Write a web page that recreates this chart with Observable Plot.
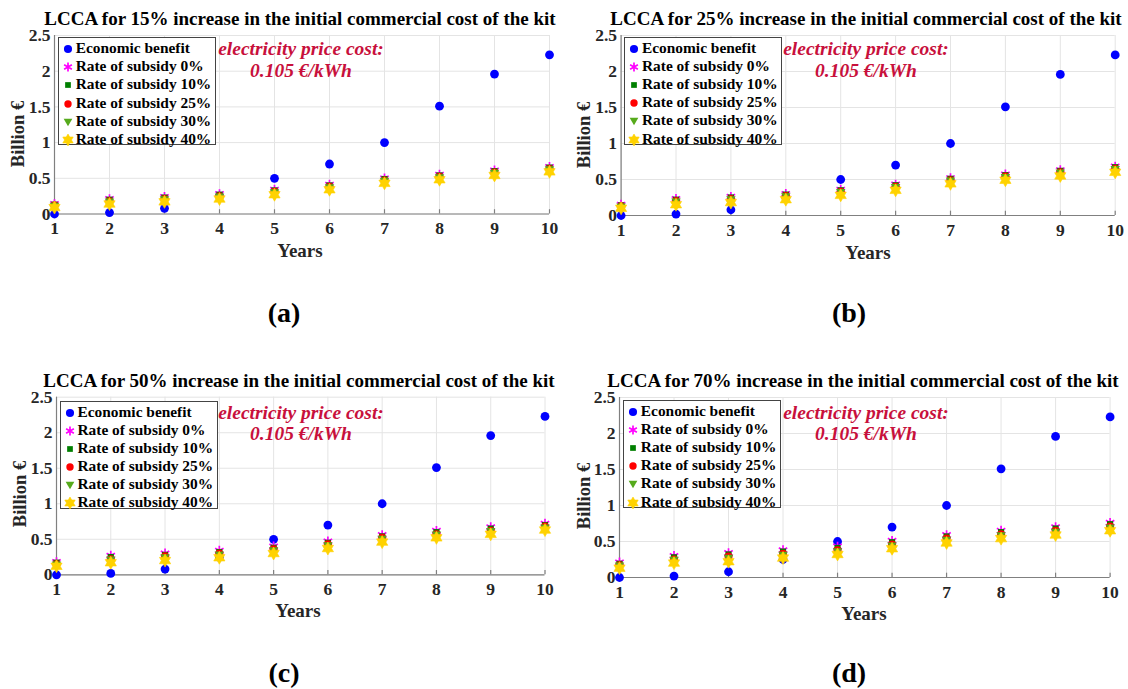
<!DOCTYPE html>
<html>
<head>
<meta charset="utf-8">
<script src="https://cdn.jsdelivr.net/npm/d3@7"></script>
<script src="https://cdn.jsdelivr.net/npm/@observablehq/plot@0.6"></script>
<style>
  body { margin: 0; background: #fff; }
  #root { position: relative; width: 1128px; height: 689px; overflow: hidden; background: #fff;
          font-family: "Liberation Serif", "Times New Roman", serif; font-weight: bold; }
  .abs { position: absolute; white-space: nowrap; line-height: 1; }
  .title { font-size: 19px; line-height: 0.8; color: #000; transform: translate(-50%, -50%); }
  .ylab { font-size: 18.5px; color: #262626; transform: translate(-50%, -50%) rotate(-90deg); }
  .xlab { font-size: 19px; color: #262626; transform: translate(-50%, -50%); }
  .tag { font-size: 28px; color: #000; transform: translate(-50%, -50%); }
  .note { font-size: 19.5px; font-style: italic; color: #c8103c; transform: translate(-50%, -50%); }
  .legend { position: absolute; width: 158px; height: 108px; border: 1px solid #444; background: #fff; box-sizing: border-box; }
  .legrow { position: absolute; left: 0; font-size: 15.4px; color: #000; white-space: nowrap; line-height: 1; }
  .legrow svg { position: absolute; left: 2px; top: -6px; }
  .legrow span { position: absolute; left: 17px; top: -8px; }
  svg.plot { position: absolute; overflow: visible; }
</style>
</head>
<body>
<div id="root"></div>
<script>
// ---------------- data ----------------
const years = [1, 2, 3, 4, 5, 6, 7, 8, 9, 10];
const yTicks = [0, 0.5, 1, 1.5, 2, 2.5];
const seriesNames = ["Economic benefit", "Rate of subsidy 0%", "Rate of subsidy 10%",
                     "Rate of subsidy 25%", "Rate of subsidy 30%", "Rate of subsidy 40%"];
const economicBenefit = [0.00, 0.02, 0.08, 0.25, 0.50, 0.70, 1.00, 1.51, 1.96, 2.23];

// subsidy series (0%, 10%, 25%, 30%, 40%) per cost-increase scenario
const increase15 = [
  [0.14, 0.21, 0.24, 0.28, 0.34, 0.41, 0.50, 0.55, 0.61, 0.66],
  [0.13, 0.20, 0.23, 0.27, 0.33, 0.40, 0.49, 0.54, 0.60, 0.65],
  [0.12, 0.18, 0.21, 0.25, 0.31, 0.38, 0.47, 0.52, 0.58, 0.63],
  [0.11, 0.17, 0.20, 0.24, 0.30, 0.37, 0.46, 0.51, 0.57, 0.62],
  [0.09, 0.14, 0.17, 0.21, 0.27, 0.34, 0.43, 0.48, 0.54, 0.59]
];
const increase25 = [
  [0.15, 0.23, 0.26, 0.30, 0.36, 0.43, 0.52, 0.57, 0.63, 0.68],
  [0.14, 0.22, 0.25, 0.29, 0.35, 0.42, 0.51, 0.56, 0.62, 0.67],
  [0.13, 0.20, 0.23, 0.27, 0.33, 0.40, 0.49, 0.54, 0.60, 0.65],
  [0.12, 0.19, 0.22, 0.26, 0.32, 0.39, 0.48, 0.53, 0.59, 0.64],
  [0.10, 0.15, 0.18, 0.22, 0.28, 0.35, 0.44, 0.49, 0.55, 0.60]
];
const increase50 = [
  [0.18, 0.27, 0.30, 0.34, 0.40, 0.47, 0.56, 0.62, 0.67, 0.72],
  [0.17, 0.25, 0.28, 0.32, 0.38, 0.45, 0.54, 0.60, 0.65, 0.70],
  [0.15, 0.22, 0.26, 0.30, 0.36, 0.43, 0.52, 0.57, 0.62, 0.68],
  [0.14, 0.21, 0.24, 0.28, 0.34, 0.41, 0.50, 0.56, 0.61, 0.66],
  [0.12, 0.17, 0.20, 0.24, 0.30, 0.37, 0.46, 0.52, 0.57, 0.63]
];
const increase70 = [
  [0.21, 0.30, 0.34, 0.38, 0.43, 0.51, 0.59, 0.65, 0.70, 0.76],
  [0.19, 0.28, 0.32, 0.36, 0.41, 0.49, 0.57, 0.63, 0.68, 0.74],
  [0.17, 0.25, 0.29, 0.33, 0.38, 0.46, 0.54, 0.60, 0.65, 0.71],
  [0.16, 0.24, 0.27, 0.31, 0.36, 0.44, 0.52, 0.58, 0.63, 0.69],
  [0.13, 0.20, 0.22, 0.27, 0.32, 0.40, 0.48, 0.54, 0.59, 0.65]
];
const scenarios = [increase15, increase25, increase50, increase70];
const panelTitles = [
  "LCCA for 15% increase in the initial commercial cost of the kit",
  "LCCA for 25% increase in the initial commercial cost of the kit",
  "LCCA for 50% increase in the initial commercial cost of the kit",
  "LCCA for 70% increase in the initial commercial cost of the kit"
];
const panelTags = ["(a)", "(b)", "(c)", "(d)"];
const noteLines = ["electricity price cost:", "0.105 €/kWh"];
const yLabel = "Billion €";
const xLabel = "Years";

// ---------------- layout (page coordinates) ----------------
const layout = [
  {left: 0,   top: 0,   ml: 54,   mr: 15,   mt: 35,    y0: 213.5, title: [300, 19],  ylab: [18, 134],  xlab: [300, 250], tag: [284, 313], leg: [57.7, 37.3], note: [301, 49.3, 71]},
  {left: 564, top: 0,   ml: 56.6, mr: 13.3, mt: 35,    y0: 215,   title: [866, 19],  ylab: [584, 135], xlab: [868, 252], tag: [849, 313], leg: [624, 37],    note: [866, 49.3, 71]},
  {left: 0,   top: 360, ml: 56,   mr: 19.5, mt: 396.7, y0: 574.3, title: [299, 381], ylab: [20, 494],  xlab: [298, 610], tag: [284, 673], leg: [59.5, 400.7], note: [301, 412.7, 434]},
  {left: 564, top: 360, ml: 55,   mr: 18.4, mt: 397,   y0: 577,   title: [863, 381], ylab: [584, 496], xlab: [864, 613], tag: [849, 673], leg: [622.8, 400], note: [866, 412.7, 434]}
];

// ---------------- symbols ----------------
const downTriangle = {
  draw(ctx, size) {
    const s = Math.sqrt(size);
    ctx.moveTo(-s * 0.62, -s * 0.45);
    ctx.lineTo(s * 0.62, -s * 0.45);
    ctx.lineTo(0, s * 0.6);
    ctx.closePath();
  }
};
const hexagram = {
  draw(ctx, size) {
    const R = Math.sqrt(size / Math.PI) * 1.3;
    const r = R / Math.sqrt(3);
    for (let k = 0; k < 12; k++) {
      const a = -Math.PI / 2 + k * Math.PI / 6;
      const rad = k % 2 === 0 ? R : r;
      const px = rad * Math.cos(a), py = rad * Math.sin(a);
      if (k === 0) ctx.moveTo(px, py); else ctx.lineTo(px, py);
    }
    ctx.closePath();
  }
};
const styles = [
  {symbol: "circle", r: 4.4, fill: "#0000ff"},
  {symbol: "asterisk", r: 4.6, stroke: "#ff00ff", fill: "none", strokeWidth: 1.7},
  {symbol: "square", r: 3.5, fill: "#007f00"},
  {symbol: "circle", r: 4.0, fill: "#ff0000"},
  {symbol: downTriangle, r: 4.3, fill: "#56aa1c"},
  {symbol: hexagram, r: 5.0, fill: "#ffd200", stroke: "#ffd200", strokeWidth: 0.6}
];

const root = document.getElementById("root");
function addText(cls, text, x, y) {
  const d = document.createElement("div");
  d.className = "abs " + cls;
  d.textContent = text;
  d.style.left = x + "px";
  d.style.top = y + "px";
  root.appendChild(d);
  return d;
}

scenarios.forEach((scen, p) => {
  const L = layout[p];
  const allSeries = [economicBenefit, ...scen];
  const rowsBySeries = allSeries.map((vals, s) => years.map((yr, i) => ({year: yr, value: vals[i], series: seriesNames[s]})));
  const H = (L.y0 - L.top) + 26;
  const marks = [
    Plot.ruleX(years, {stroke: "#e4e4e4", strokeWidth: 1}),
    Plot.ruleY(yTicks, {stroke: "#e4e4e4", strokeWidth: 1}),
    Plot.ruleY([0], {stroke: "#808080", strokeWidth: 1.2}),
    Plot.ruleX([1], {stroke: "#808080", strokeWidth: 1.2}),
    Plot.ruleX(years, {y1: 0, y2: 0.06, stroke: "#808080", strokeWidth: 1.2}),
    ...rowsBySeries.map((rows, s) => Plot.dot(rows, {x: "year", y: "value", ...styles[s]}))
  ];
  const chart = Plot.plot({
    width: 564,
    height: H,
    marginLeft: L.ml,
    marginRight: L.mr,
    marginTop: L.mt - L.top,
    marginBottom: 26,
    style: {fontFamily: '"Liberation Serif", "Times New Roman", serif', fontWeight: "bold", fontSize: "17.5px", color: "#262626", background: "transparent"},
    x: {domain: [1, 10], ticks: years, tickFormat: d => String(d), tickSize: 0, tickPadding: 8, label: null},
    y: {domain: [0, 2.5], ticks: yTicks, tickFormat: d => String(d), tickSize: 0, tickPadding: 4, label: null},
    marks
  });
  chart.classList.add("plot");
  chart.style.left = L.left + "px";
  chart.style.top = L.top + "px";
  root.appendChild(chart);

  addText("title", panelTitles[p], L.title[0], L.title[1]);
  addText("ylab", yLabel, L.ylab[0], L.ylab[1]);
  addText("xlab", xLabel, L.xlab[0], L.xlab[1]);
  addText("tag", panelTags[p], L.tag[0], L.tag[1]);
  addText("note", noteLines[0], L.note[0], L.note[1]);
  addText("note", noteLines[1], L.note[0], L.note[2]);

  // legend
  const leg = document.createElement("div");
  leg.className = "legend";
  leg.style.left = L.leg[0] + "px";
  leg.style.top = L.leg[1] + "px";
  seriesNames.forEach((name, s) => {
    const row = document.createElement("div");
    row.className = "legrow";
    row.style.top = (10 + s * 18.1) + "px";
    const st = styles[s];
    const size = Math.PI * st.r * st.r * 0.85;
    const typ = st.symbol === "circle" ? d3.symbolCircle : st.symbol === "square" ? d3.symbolSquare
              : st.symbol === "asterisk" ? d3.symbolAsterisk : st.symbol;
    const svg = d3.create("svg").attr("width", 14).attr("height", 14).attr("viewBox", "-7 -7 14 14");
    svg.append("path").attr("d", d3.symbol().type(typ).size(size)())
      .attr("fill", st.fill || "none").attr("stroke", st.stroke || "none").attr("stroke-width", st.strokeWidth || 0);
    row.appendChild(svg.node());
    const sp = document.createElement("span");
    sp.textContent = name;
    row.appendChild(sp);
    leg.appendChild(row);
  });
  root.appendChild(leg);
});
</script>
</body>
</html>
